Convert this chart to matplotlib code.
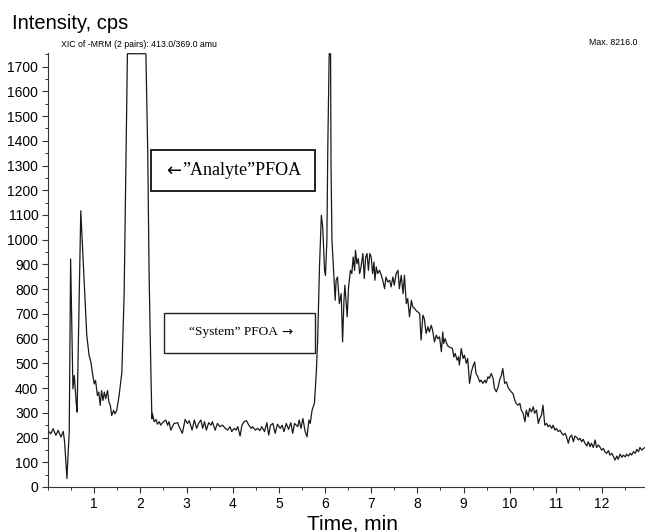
import numpy as np
import matplotlib
matplotlib.use('Agg')
import matplotlib.pyplot as plt
from matplotlib.patches import Rectangle
from matplotlib.ticker import MultipleLocator

plt.rcParams['font.family'] = ['Liberation Sans', 'DejaVu Sans']

# 数据 (时间 min, 强度 cps)
early_t = [0.00, 0.06, 0.11, 0.17, 0.22, 0.28, 0.33, 0.36, 0.41, 0.43,
           0.46, 0.49, 0.54, 0.57, 0.61, 0.63, 0.67, 0.71, 0.75, 0.80,
           0.84, 0.89, 0.93, 0.96, 1.00, 1.03, 1.07, 1.10, 1.13, 1.16,
           1.19, 1.22, 1.25, 1.29, 1.32, 1.35, 1.38, 1.42, 1.45, 1.49,
           1.54, 1.60, 1.65, 1.69, 1.72, 1.78, 1.85, 1.92, 2.00, 2.07,
           2.12, 2.16, 2.19, 2.23, 2.25]
early_y = [229, 215, 236, 209, 229, 202, 225, 182, 34, 114,
           222, 922, 397, 451, 343, 303, 720, 1117, 963, 774,
           612, 532, 505, 464, 417, 431, 370, 384, 330, 390,
           350, 384, 357, 390, 343, 330, 289, 310, 296, 310,
           370, 464, 788, 1326, 2100, 4600, 7300, 8216, 7000, 4200,
           2000, 1353, 855, 451, 276]

base_t = [2.26, 2.30, 2.34, 2.37, 2.41, 2.44, 2.48, 2.55, 2.59, 2.62,
          2.66, 2.73, 2.81, 2.84, 2.91, 2.97, 3.02, 3.06, 3.12, 3.17,
          3.22, 3.26, 3.31, 3.35, 3.39, 3.43, 3.48, 3.53, 3.56, 3.62,
          3.67, 3.72, 3.78, 3.84, 3.89, 3.94, 3.98, 4.03, 4.07, 4.11,
          4.16, 4.20, 4.25, 4.30, 4.35, 4.40, 4.43, 4.49, 4.54, 4.59,
          4.63, 4.69, 4.74, 4.78, 4.82, 4.87, 4.92, 4.97, 5.03, 5.07,
          5.11, 5.16, 5.21, 5.26, 5.30]
base_y = [298, 264, 273, 254, 264, 250, 260, 271, 250, 264,
          230, 257, 260, 244, 217, 273, 257, 268, 230, 271,
          237, 257, 271, 237, 264, 230, 260, 250, 264, 230,
          257, 244, 250, 237, 230, 244, 224, 237, 230, 244,
          206, 250, 264, 268, 250, 237, 244, 230, 237, 228,
          244, 224, 260, 210, 250, 257, 217, 254, 237, 250,
          224, 257, 233, 260, 217]

sys_t = [5.34, 5.41, 5.44, 5.48, 5.52, 5.57, 5.61, 5.65, 5.68, 5.72,
         5.77, 5.81, 5.84, 5.88, 5.92, 5.95, 5.99, 6.01, 6.04, 6.06,
         6.09, 6.12, 6.13, 6.15, 6.19, 6.22, 6.24, 6.27, 6.31, 6.35,
         6.38, 6.41, 6.43, 6.48, 6.51, 6.55, 6.58, 6.61, 6.64, 6.66,
         6.69, 6.72, 6.75, 6.78, 6.82, 6.85, 6.88, 6.91, 6.94, 6.97,
         7.00, 7.03, 7.06, 7.08, 7.11, 7.14, 7.18, 7.22, 7.25, 7.29,
         7.32, 7.36, 7.40, 7.43, 7.47, 7.50, 7.54, 7.58, 7.61, 7.65,
         7.69]
sys_y = [257, 244, 271, 237, 277, 224, 203, 271, 257, 311,
         338, 459, 594, 890, 1099, 1051, 876, 856, 998, 1374,
         3400, 3000, 1294, 998, 863, 755, 836, 849, 742, 782,
         587, 755, 816, 688, 809, 876, 863, 930, 876, 957,
         903, 924, 863, 890, 944, 843, 930, 944, 876, 944,
         930, 863, 910, 836, 890, 863, 876, 856, 836, 802,
         849, 829, 836, 809, 849, 816, 863, 876, 802, 856,
         782]

tail_t = [7.72, 7.76, 7.79, 7.83, 7.87, 7.90, 7.94, 7.98, 8.01, 8.05,
          8.08, 8.12, 8.15, 8.19, 8.23, 8.26, 8.30, 8.33, 8.37, 8.41,
          8.44, 8.48, 8.52, 8.55, 8.57, 8.60, 8.65, 8.68, 8.72, 8.76,
          8.79, 8.82, 8.86, 8.89, 8.91, 8.95, 8.99, 9.02, 9.06, 9.09,
          9.13, 9.17, 9.20, 9.24, 9.27, 9.31, 9.35, 9.38, 9.42, 9.46,
          9.49, 9.53, 9.56, 9.60, 9.64, 9.67, 9.71, 9.75, 9.78, 9.82,
          9.85, 9.89, 9.93, 9.96, 10.00, 10.03, 10.07, 10.11, 10.14, 10.18,
          10.22, 10.25, 10.29, 10.33, 10.36, 10.40]
tail_y = [856, 742, 762, 688, 755, 728, 722, 712, 708, 701,
          594, 695, 681, 621, 648, 627, 654, 634, 587, 614,
          600, 607, 547, 627, 580, 600, 573, 567, 564, 560,
          526, 540, 513, 526, 493, 560, 520, 533, 500, 520,
          419, 466, 486, 506, 459, 446, 425, 432, 419, 432,
          421, 446, 439, 459, 439, 399, 385, 405, 432, 452,
          479, 419, 425, 405, 392, 385, 378, 351, 338, 331,
          338, 311, 298, 264, 311, 284]

end_t = [10.43, 10.47, 10.51, 10.54, 10.58, 10.62, 10.65, 10.69, 10.72, 10.76,
         10.80, 10.83, 10.87, 10.91, 10.94, 10.98, 11.01, 11.05, 11.09, 11.12,
         11.16, 11.20, 11.23, 11.27, 11.30, 11.34, 11.38, 11.41, 11.45, 11.49,
         11.52, 11.56, 11.59, 11.63, 11.67, 11.70, 11.74, 11.77, 11.81, 11.85,
         11.88, 11.92, 11.96, 11.99, 12.03, 12.06, 12.10, 12.14, 12.17, 12.21,
         12.25, 12.28, 12.32, 12.35, 12.39, 12.43, 12.46, 12.50, 12.53, 12.57,
         12.61, 12.64, 12.68, 12.72, 12.75, 12.79, 12.82, 12.86, 12.90, 12.93]
end_y = [318, 304, 324, 298, 311, 257, 277, 291, 331, 250,
         257, 244, 250, 237, 250, 230, 237, 224, 230, 219,
         210, 217, 203, 177, 201, 210, 183, 206, 201, 190,
         197, 183, 193, 177, 166, 183, 163, 177, 160, 190,
         160, 170, 160, 149, 156, 143, 136, 147, 129, 136,
         122, 109, 125, 112, 133, 120, 129, 122, 133, 125,
         136, 129, 143, 136, 152, 143, 160, 149, 156, 160]

x_ticks = list(range(1, 13))
y_ticks = list(range(0, 1800, 100))

time = np.array(early_t + base_t + sys_t + tail_t + end_t)
intensity = np.array(early_y + base_y + sys_y + tail_y + end_y, dtype=float)

y_top = 1752  # 仪器软件把超出量程的峰削平
x_max = 12.93

fig = plt.figure(figsize=(6.45, 5.32), dpi=100)
ax = fig.add_axes([48 / 645, 45 / 532, 597 / 645, 434 / 532])

ax.plot(time, np.minimum(intensity, y_top), color='#1a1a1a', linewidth=0.9)

ax.set_xlim(0, x_max)
ax.set_ylim(0, y_top + 3)
ax.set_xticks(x_ticks)
ax.set_yticks(y_ticks)
ax.xaxis.set_minor_locator(MultipleLocator(0.5))
ax.yaxis.set_minor_locator(MultipleLocator(50))
ax.tick_params(which='major', length=4, width=0.8, color='#333333',
               labelsize=10, pad=3)
ax.tick_params(which='minor', length=2.5, width=0.7, color='#333333')

for side in ['top', 'right']:
    ax.spines[side].set_visible(False)
for side in ['left', 'bottom']:
    ax.spines[side].set_linewidth(0.8)
    ax.spines[side].set_color('#333333')

# 文字
fig.text(12 / 645, 1 - 29 / 532, 'Intensity, cps', fontsize=14.5)
fig.text(61 / 645, 1 - 47 / 532, 'XIC of -MRM (2 pairs): 413.0/369.0 amu', fontsize=6.3)
fig.text(637 / 645, 1 - 45 / 532, 'Max. 8216.0', fontsize=6.3, ha='right')
fig.text(353 / 645, 1 - 529 / 532, 'Time, min', fontsize=15, ha='center')

# 标注框 (箭头用无衬线字体, 文字用衬线字体)
serif = ['Liberation Serif', 'DejaVu Serif']
ax.add_patch(Rectangle((2.23, 1197), 3.56, 164, fill=False,
                       edgecolor='#222222', linewidth=1.4, clip_on=False))
ax.text(2.55, 1279, '\u2190', family='DejaVu Sans', fontsize=13,
        ha='left', va='center')
ax.text(2.90, 1279, '\u201dAnalyte\u201dPFOA', family=serif, fontsize=13,
        ha='left', va='center')
ax.add_patch(Rectangle((2.52, 540), 3.27, 164, fill=False,
                       edgecolor='#222222', linewidth=1.0, clip_on=False))
ax.text(3.06, 628, '\u201cSystem\u201d PFOA', family=serif, fontsize=9.6,
        ha='left', va='center')
ax.text(5.05, 628, '\u2192', family='DejaVu Sans', fontsize=9.5,
        ha='left', va='center')

plt.savefig('out.png', dpi=100)
